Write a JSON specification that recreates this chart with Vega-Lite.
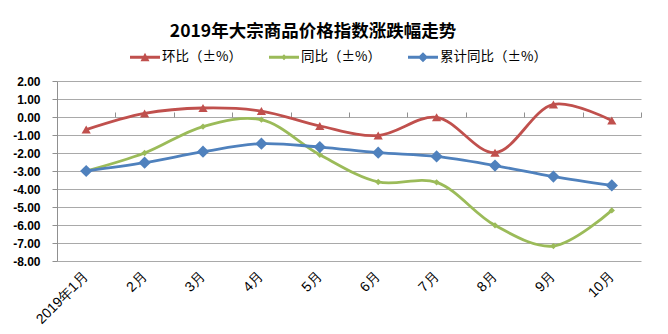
{
  "$schema": "https://vega.github.io/schema/vega-lite/v6.json",
  "autosize": "none",
  "width": 584,
  "height": 180,
  "padding": {"left": 57, "top": 81, "right": 27, "bottom": 73},
  "background": "#ffffff",
  "title": {
    "text": "2019年大宗商品价格指数涨跌幅走势",
    "font": "Noto Sans CJK SC",
    "fontSize": 17.5,
    "fontWeight": "bold",
    "color": "#000000",
    "anchor": "middle",
    "frame": "group",
    "dx": -36,
    "dy": 4,
    "offset": 6
  },
  "data": {
    "values": [
      {"month": "2019年1月", "series": "环比（±%）", "value": -0.7},
      {"month": "2月", "series": "环比（±%）", "value": 0.2},
      {"month": "3月", "series": "环比（±%）", "value": 0.5},
      {"month": "4月", "series": "环比（±%）", "value": 0.33},
      {"month": "5月", "series": "环比（±%）", "value": -0.5},
      {"month": "6月", "series": "环比（±%）", "value": -1.03},
      {"month": "7月", "series": "环比（±%）", "value": -0.02},
      {"month": "8月", "series": "环比（±%）", "value": -1.98},
      {"month": "9月", "series": "环比（±%）", "value": 0.7},
      {"month": "10月", "series": "环比（±%）", "value": -0.2},
      {"month": "2019年1月", "series": "同比（±%）", "value": -3.0},
      {"month": "2月", "series": "同比（±%）", "value": -2.0},
      {"month": "3月", "series": "同比（±%）", "value": -0.53},
      {"month": "4月", "series": "同比（±%）", "value": -0.15},
      {"month": "5月", "series": "同比（±%）", "value": -2.1},
      {"month": "6月", "series": "同比（±%）", "value": -3.61},
      {"month": "7月", "series": "同比（±%）", "value": -3.63},
      {"month": "8月", "series": "同比（±%）", "value": -6.02},
      {"month": "9月", "series": "同比（±%）", "value": -7.17},
      {"month": "10月", "series": "同比（±%）", "value": -5.19},
      {"month": "2019年1月", "series": "累计同比（±%）", "value": -3.0},
      {"month": "2月", "series": "累计同比（±%）", "value": -2.54},
      {"month": "3月", "series": "累计同比（±%）", "value": -1.93},
      {"month": "4月", "series": "累计同比（±%）", "value": -1.48},
      {"month": "5月", "series": "累计同比（±%）", "value": -1.67},
      {"month": "6月", "series": "累计同比（±%）", "value": -1.98},
      {"month": "7月", "series": "累计同比（±%）", "value": -2.19},
      {"month": "8月", "series": "累计同比（±%）", "value": -2.7},
      {"month": "9月", "series": "累计同比（±%）", "value": -3.31},
      {"month": "10月", "series": "累计同比（±%）", "value": -3.8}
    ]
  },
  "encoding": {
    "y": {
      "field": "value",
      "type": "quantitative",
      "scale": {"domain": [-8, 2], "nice": false, "zero": false},
      "axis": {
        "title": null,
        "values": [-8, -7, -6, -5, -4, -3, -2, -1, 0, 1, 2],
        "labelExpr": "replace(format(datum.value, '.2f'), '\u2212', '-')",
        "labelFont": "Liberation Sans",
        "labelFontSize": 12,
        "labelFontWeight": "bold",
        "labelColor": "#000000",
        "labelPadding": 12,
        "tickSize": 5,
        "tickColor": "#909090",
        "domainColor": "#909090",
        "gridColor": "#a9a9a9",
        "gridWidth": 1
      }
    }
  },
  "layer": [
    {
      "mark": {"type": "line", "interpolate": "catmull-rom", "strokeWidth": 2.8},
      "encoding": {
        "x": {
          "field": "month",
          "type": "ordinal",
          "sort": null,
          "bandPosition": 0.5,
          "scale": {"type": "band", "paddingInner": 0, "paddingOuter": 0},
          "axis": {
            "title": null,
            "orient": "bottom",
            "domain": false,
            "ticks": false,
            "grid": false,
            "labelAngle": -45,
            "labelAlign": "right",
            "labelBaseline": "middle",
            "labelPadding": 13,
            "labelFont": "Liberation Sans",
            "labelFontSize": 14,
            "labelColor": "#000000"
          }
        },
        "color": {
          "field": "series",
          "type": "nominal",
          "scale": {
            "domain": ["环比（±%）", "同比（±%）", "累计同比（±%）"],
            "range": ["#C0504D", "#9BBB59", "#4F81BD"]
          },
          "legend": {
            "title": null,
            "orient": "none",
            "direction": "horizontal",
            "legendX": 73,
            "legendY": -39,
            "padding": 0,
            "columnPadding": 27,
            "labelOffset": 2,
            "labelFont": "Noto Sans CJK SC",
            "labelFontSize": 13.5,
            "labelColor": "#000000",
            "symbolSize": 900,
            "symbolStrokeWidth": 0,
            "encode": {
              "symbols": {
                "update": {
                  "shape": {"signal": "datum.value === '环比（±%）' ? 'M-1,-0.1H1V0.1H-1Z M-0.3,0.27L0,-0.3L0.3,0.27Z' : datum.value === '同比（±%）' ? 'M-1,-0.1H1V0.1H-1Z M-0.2,0L0,-0.2L0.2,0L0,0.2Z' : 'M-1,-0.1H1V0.1H-1Z M-0.34,0L0,-0.34L0.34,0L0,0.34Z'"},
                  "fill": {"signal": "scale('color', datum.value)"},
                  "fillOpacity": {"value": 1},
                  "strokeWidth": {"value": 0},
                  "size": {"value": 900}
                }
              }
            }
          }
        }
      }
    },
    {
      "transform": [{"filter": "datum.series === '环比（±%）'"}],
      "mark": {"type": "point", "filled": true, "opacity": 1, "shape": "triangle-up", "size": 85},
      "encoding": {
        "x": {
          "field": "month",
          "type": "ordinal",
          "sort": null,
          "bandPosition": 0.5,
          "axis": {
            "title": null,
            "orient": "top",
            "offset": -36,
            "domain": false,
            "labels": false,
            "grid": false,
            "ticks": true,
            "tickBand": "extent",
            "tickSize": 5,
            "tickColor": "#909090"
          }
        },
        "color": {"field": "series", "type": "nominal", "legend": null}
      }
    },
    {
      "transform": [{"filter": "datum.series === '同比（±%）'"}],
      "mark": {"type": "point", "filled": true, "opacity": 1, "shape": "diamond", "size": 40},
      "encoding": {
        "x": {"field": "month", "type": "ordinal", "sort": null, "bandPosition": 0.5, "axis": null},
        "color": {"field": "series", "type": "nominal", "legend": null}
      }
    },
    {
      "transform": [{"filter": "datum.series === '累计同比（±%）'"}],
      "mark": {"type": "point", "filled": true, "opacity": 1, "shape": "diamond", "size": 150},
      "encoding": {
        "x": {"field": "month", "type": "ordinal", "sort": null, "bandPosition": 0.5, "axis": null},
        "color": {"field": "series", "type": "nominal", "legend": null}
      }
    }
  ],
  "resolve": {"axis": {"x": "independent"}},
  "config": {
    "view": {"stroke": null}
  }
}
